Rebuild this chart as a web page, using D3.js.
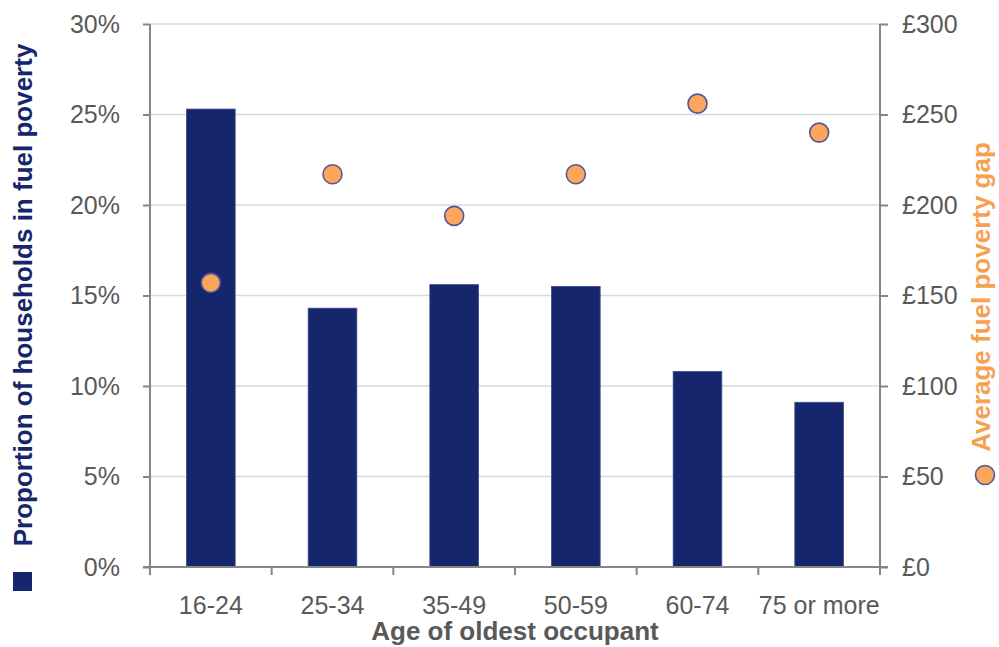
<!DOCTYPE html>
<html>
<head>
<meta charset="utf-8">
<script src="https://cdn.jsdelivr.net/npm/d3@7"></script>
<style>
  html, body { margin: 0; padding: 0; background: #fff; }
  svg { display: block; font-family: "Liberation Sans", Arial, sans-serif; }
</style>
</head>
<body>
<svg id="chart" width="999" height="647"></svg>
<script>
// Age bands of the oldest occupant
const categories = ["16-24", "25-34", "35-49", "50-59", "60-74", "75 or more"];
// Share of households in fuel poverty (%)
const proportion = [25.3, 14.3, 15.6, 15.5, 10.8, 9.1];
// Average fuel poverty gap (£)
const gap = [157, 217, 194, 217, 256, 240];
// Axis ticks
const leftTicks = [0, 5, 10, 15, 20, 25, 30];
const rightTicks = [0, 50, 100, 150, 200, 250, 300];

const svg = d3.select("#chart");
const W = 999, H = 647;
const m = { left: 150, right: 119, top: 24, bottom: 80 };
const x0 = m.left, x1 = W - m.right, yTop = m.top, yBot = H - m.bottom;

const x = d3.scaleBand().domain(categories).range([x0, x1]).paddingInner(0.6).paddingOuter(0.3);
const xBand = d3.scaleBand().domain(categories).range([x0, x1]).padding(0);
const yL = d3.scaleLinear().domain([0, 30]).range([yBot, yTop]);
const yR = d3.scaleLinear().domain([0, 300]).range([yBot, yTop]);

const axisColor = "#868686";
const tickText = "#595959";
const navy = "#15266d";
const orange = "#fba65a";

// Horizontal gridlines
svg.append("g").selectAll("line").data(leftTicks.filter(d => d > 0)).join("line")
  .attr("x1", x0).attr("x2", x1)
  .attr("y1", d => yL(d)).attr("y2", d => yL(d))
  .attr("stroke", "#d9d9d9").attr("stroke-width", 1.3);

// Bars
svg.append("g").selectAll("rect").data(categories).join("rect")
  .attr("x", d => x(d))
  .attr("width", x.bandwidth())
  .attr("y", (d, i) => yL(proportion[i]))
  .attr("height", (d, i) => yBot - yL(proportion[i]))
  .attr("fill", navy)
  .attr("stroke", "#3a4a8a").attr("stroke-width", 0.8);

// Left axis
const gL = svg.append("g").attr("transform", `translate(${x0},0)`)
  .call(d3.axisLeft(yL).tickValues(leftTicks).tickFormat(d => d + "%").tickSize(7).tickPadding(23));
// Right axis
const gR = svg.append("g").attr("transform", `translate(${x1},0)`)
  .call(d3.axisRight(yR).tickValues(rightTicks).tickFormat(d => "£" + d).tickSize(8).tickPadding(14));
// Bottom axis: ticks at category boundaries
const gB = svg.append("g").attr("transform", `translate(0,${yBot})`)
  .call(d3.axisBottom(xBand).tickSize(0).tickPadding(29));
gB.selectAll(".tick line").remove();
gB.append("g").selectAll("line").data(categories.slice(0, -1)).join("line")
  .attr("x1", d => xBand(d) + xBand.bandwidth()).attr("x2", d => xBand(d) + xBand.bandwidth())
  .attr("y1", 0).attr("y2", 8)
  .attr("stroke", axisColor).attr("stroke-width", 2);

[gL, gR, gB].forEach(g => {
  g.select(".domain").remove();
  g.selectAll(".tick line").attr("stroke", axisColor).attr("stroke-width", 2);
  g.selectAll(".tick text").attr("fill", tickText)
    .style("font-size", "25px").style("font-family", "'Liberation Sans', Arial, sans-serif");
});

// Axis lines
svg.append("line").attr("x1", x0 - 7).attr("x2", x1 + 8).attr("y1", yBot).attr("y2", yBot)
  .attr("stroke", axisColor).attr("stroke-width", 2);
svg.append("line").attr("x1", x0).attr("x2", x0).attr("y1", yTop).attr("y2", yBot + 8)
  .attr("stroke", axisColor).attr("stroke-width", 2);
svg.append("line").attr("x1", x1).attr("x2", x1).attr("y1", yTop).attr("y2", yBot + 8)
  .attr("stroke", axisColor).attr("stroke-width", 2);

// Gap markers
svg.append("g").selectAll("circle").data(categories).join("circle")
  .attr("cx", d => xBand(d) + xBand.bandwidth() / 2)
  .attr("cy", (d, i) => yR(gap[i]))
  .attr("r", 9.5)
  .attr("fill", orange)
  .attr("stroke", "#56569a").attr("stroke-width", 1.6);

// Axis titles
svg.append("text").attr("x", (x0 + x1) / 2).attr("y", 640)
  .attr("text-anchor", "middle").attr("fill", "#595959")
  .style("font-size", "26px").style("font-weight", "bold")
  .text("Age of oldest occupant");

svg.append("text").attr("transform", "translate(32,295) rotate(-90)")
  .attr("text-anchor", "middle").attr("fill", navy)
  .style("font-size", "26px").style("font-weight", "bold")
  .text("Proportion of households in fuel poverty");
svg.append("rect").attr("x", 13).attr("y", 572).attr("width", 19).attr("height", 19)
  .attr("fill", navy);

svg.append("text").attr("transform", "translate(990,297) rotate(-90)")
  .attr("text-anchor", "middle").attr("fill", "#f7a04e")
  .style("font-size", "26px").style("font-weight", "bold")
  .text("Average fuel poverty gap");
svg.append("circle").attr("cx", 985).attr("cy", 475).attr("r", 9.5)
  .attr("fill", orange).attr("stroke", "#56569a").attr("stroke-width", 1.6);
</script>
</body>
</html>
